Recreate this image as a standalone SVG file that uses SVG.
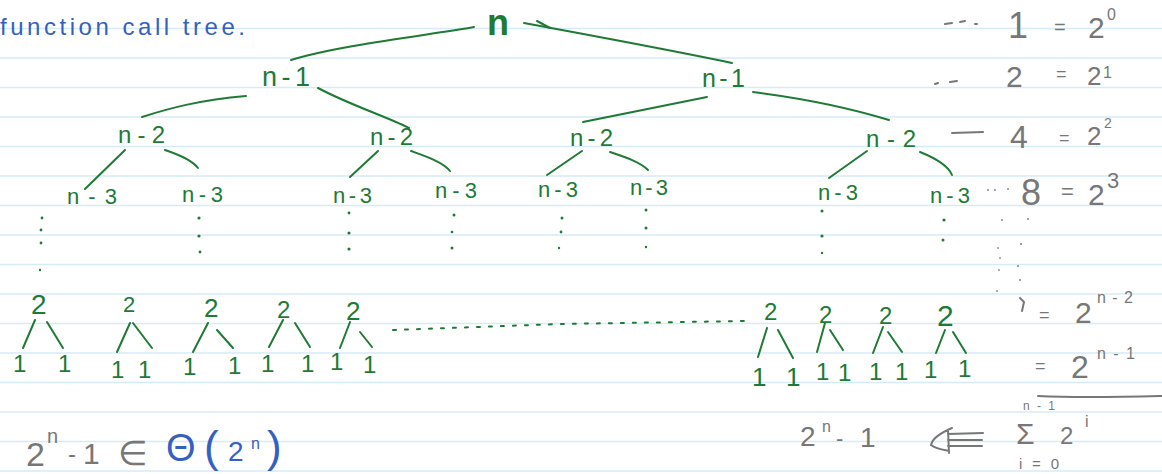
<svg xmlns="http://www.w3.org/2000/svg" width="1162" height="474" viewBox="0 0 1162 474">
<style>
.rule{stroke:#d5ebf8;stroke-width:1.6}
.g{fill:#1e7a34;font-family:"Liberation Sans",Arial,sans-serif}
.gr{fill:#777;font-family:"Liberation Sans",Arial,sans-serif}
.b{fill:#3461c1;font-family:"Liberation Sans",Arial,sans-serif}
.e{stroke:#1e7a34;stroke-width:2;fill:none;stroke-linecap:round}
.ge{stroke:#777;stroke-width:2;fill:none;stroke-linecap:round}
.dot{fill:#1e7a34}
.gdot{fill:#888}
</style>
<rect width="1162" height="474" fill="#fff"/>
<g id="ruling">
<line class="rule" x1="0" y1="28.5" x2="1162" y2="28.5"/>
<line class="rule" x1="0" y1="58" x2="1162" y2="58"/>
<line class="rule" x1="0" y1="87.5" x2="1162" y2="87.5"/>
<line class="rule" x1="0" y1="117" x2="1162" y2="117"/>
<line class="rule" x1="0" y1="146.5" x2="1162" y2="146.5"/>
<line class="rule" x1="0" y1="176" x2="1162" y2="176"/>
<line class="rule" x1="0" y1="205.5" x2="1162" y2="205.5"/>
<line class="rule" x1="0" y1="235" x2="1162" y2="235"/>
<line class="rule" x1="0" y1="264.5" x2="1162" y2="264.5"/>
<line class="rule" x1="0" y1="294" x2="1162" y2="294"/>
<line class="rule" x1="0" y1="323.5" x2="1162" y2="323.5"/>
<line class="rule" x1="0" y1="353" x2="1162" y2="353"/>
<line class="rule" x1="0" y1="382.5" x2="1162" y2="382.5"/>
<line class="rule" x1="0" y1="412" x2="1162" y2="412"/>
<line class="rule" x1="0" y1="441.5" x2="1162" y2="441.5"/>
<line class="rule" x1="0" y1="471" x2="1162" y2="471"/>
</g>
<g id="title"><text class="b" x="0" y="35" font-size="24" textLength="245" lengthAdjust="spacing">function call tree.</text></g>

<g id="connectors">
<path class="e" d="M474,27 C430,35 340,45 291,60"/>
<path class="e" d="M524,23 C600,37 680,52 732,63"/>
<path class="e" d="M537,21 L550,28"/>
<path class="e" d="M246,96 C200,100 170,108 142,117"/>
<path class="e" d="M318,88 C350,105 385,116 409,128"/>
<path class="e" d="M707,97 L583,122"/>
<path class="e" d="M753,92 C800,98 850,108 889,120"/>
<path class="e" d="M125,150 L85,189"/>
<path class="e" d="M165,150 C180,155 192,160 198,168"/>
<path class="e" d="M378,151 L350,177"/>
<path class="e" d="M411,151 C425,156 443,162 450,171"/>
<path class="e" d="M582,151 L547,175"/>
<path class="e" d="M610,152 C625,157 640,162 648,170"/>
<path class="e" d="M867,151 L829,178"/>
<path class="e" d="M920,152 C935,158 948,165 952,175"/>
<path class="e" d="M35,320 L23,348"/><path class="e" d="M47,322 L63,348"/>
<path class="e" d="M130,323 L117,352"/><path class="e" d="M133,323 L152,348"/>
<path class="e" d="M208,323 L193,352"/><path class="e" d="M217,330 L233,348"/>
<path class="e" d="M283,320 L269,347"/><path class="e" d="M295,323 L310,347"/>
<path class="e" d="M350,322 L340,348"/><path class="e" d="M360,332 L372,347"/>
<path class="e" d="M767,328 L758,357"/><path class="e" d="M778,330 L793,358"/>
<path class="e" d="M825,323 L817,352"/><path class="e" d="M830,330 L843,350"/>
<path class="e" d="M883,327 L873,353"/><path class="e" d="M888,332 L902,352"/>
<path class="e" d="M945,330 L936,353"/><path class="e" d="M953,332 L966,353"/>
<path class="e" d="M393,330 L560,324 L745,321" stroke-dasharray="3 9" stroke-width="1.8"/>
</g>

<g id="dots">
<circle class="dot" cx="42" cy="218" r="1.4"/><circle class="dot" cx="41" cy="230" r="1.4"/><circle class="dot" cx="41" cy="243" r="1.4"/><circle class="dot" cx="40" cy="270" r="1.2"/>
<circle class="dot" cx="199" cy="218" r="1.6"/><circle class="dot" cx="199" cy="236" r="1.6"/><circle class="dot" cx="200" cy="252" r="1.4"/>
<circle class="dot" cx="349" cy="213" r="1.4"/><circle class="dot" cx="349" cy="233" r="1.6"/><circle class="dot" cx="349" cy="249" r="1.6"/>
<circle class="dot" cx="454" cy="215" r="1.5"/><circle class="dot" cx="452" cy="232" r="1.3"/><circle class="dot" cx="452" cy="248" r="1.5"/>
<circle class="dot" cx="562" cy="218" r="1.5"/><circle class="dot" cx="561" cy="232" r="1.4"/><circle class="dot" cx="559" cy="248" r="1.2"/>
<circle class="dot" cx="646" cy="210" r="1.5"/><circle class="dot" cx="646" cy="228" r="1.5"/><circle class="dot" cx="646" cy="247" r="1.2"/>
<circle class="dot" cx="822" cy="211" r="1.5"/><circle class="dot" cx="822" cy="236" r="1.6"/><circle class="dot" cx="822" cy="253" r="1.2"/>
<circle class="dot" cx="944" cy="220" r="1.6"/><circle class="dot" cx="943" cy="240" r="1.5"/>
</g>

<g id="node-root"><text class="g" x="487" y="35" font-size="36" font-weight="bold">n</text></g>
<g id="node-n1-left"><text class="g" x="262" y="86" font-size="27" textLength="48" lengthAdjust="spacing">n-1</text></g>
<g id="node-n1-right"><text class="g" x="702" y="87" font-size="25" textLength="43" lengthAdjust="spacing">n-1</text></g>
<g id="node-n2-a"><text class="g" x="118" y="143" font-size="24" textLength="47" lengthAdjust="spacing">n-2</text></g>
<g id="node-n2-b"><text class="g" x="370" y="145" font-size="24" textLength="43" lengthAdjust="spacing">n-2</text></g>
<g id="node-n2-c"><text class="g" x="570" y="146" font-size="24" textLength="43" lengthAdjust="spacing">n-2</text></g>
<g id="node-n2-d"><text class="g" x="866" y="147" font-size="24" textLength="50" lengthAdjust="spacing">n-2</text></g>
<g id="node-n3-a"><text class="g" x="67" y="204" font-size="22" textLength="50" lengthAdjust="spacing">n-3</text></g>
<g id="node-n3-b"><text class="g" x="182" y="202" font-size="22" textLength="41" lengthAdjust="spacing">n-3</text></g>
<g id="node-n3-c"><text class="g" x="333" y="203" font-size="22" textLength="39" lengthAdjust="spacing">n-3</text></g>
<g id="node-n3-d"><text class="g" x="435" y="198" font-size="22" textLength="42" lengthAdjust="spacing">n-3</text></g>
<g id="node-n3-e"><text class="g" x="538" y="197" font-size="22" textLength="40" lengthAdjust="spacing">n-3</text></g>
<g id="node-n3-f"><text class="g" x="630" y="195" font-size="22" textLength="38" lengthAdjust="spacing">n-3</text></g>
<g id="node-n3-g"><text class="g" x="818" y="200" font-size="22" textLength="40" lengthAdjust="spacing">n-3</text></g>
<g id="node-n3-h"><text class="g" x="930" y="203" font-size="22" textLength="40" lengthAdjust="spacing">n-3</text></g>

<g id="node-2-a"><text class="g" x="31" y="314" font-size="28">2</text></g>
<g id="node-2-b"><text class="g" x="123" y="312" font-size="22">2</text></g>
<g id="node-2-c"><text class="g" x="204" y="317" font-size="26">2</text></g>
<g id="node-2-d"><text class="g" x="277" y="318" font-size="24">2</text></g>
<g id="node-2-e"><text class="g" x="346" y="320" font-size="26">2</text></g>
<g id="node-2-f"><text class="g" x="764" y="320" font-size="24">2</text></g>
<g id="node-2-g"><text class="g" x="819" y="323" font-size="24">2</text></g>
<g id="node-2-h"><text class="g" x="879" y="324" font-size="24">2</text></g>
<g id="node-2-i"><text class="g" x="937" y="326" font-size="30">2</text></g>

<g id="leaves" class="g" font-size="24">
<text x="13" y="372">1</text><text x="58" y="372">1</text>
<text x="111" y="378">1</text><text x="138" y="378">1</text>
<text x="183" y="375">1</text><text x="228" y="374">1</text>
<text x="261" y="372">1</text><text x="301" y="372">1</text>
<text x="330" y="370">1</text><text x="363" y="373">1</text>
<text x="752" y="386" font-size="26">1</text><text x="786" y="386" font-size="26">1</text>
<text x="816" y="380">1</text><text x="838" y="381">1</text>
<text x="869" y="380">1</text><text x="895" y="380">1</text>
<text x="924" y="378">1</text><text x="958" y="377">1</text>
</g>

<g id="level-counts">
<path class="ge" d="M945,24 L952,23 M960,22 L965,21 M975,24 L977,24" stroke-width="1.5"/>
<text class="gr" x="1008" y="38" font-size="36">1</text>
<text class="gr" x="1054" y="34" font-size="20">=</text>
<text class="gr" x="1088" y="38" font-size="30">2</text>
<text class="gr" x="1107" y="20" font-size="16">0</text>

<path class="ge" d="M935,84 L938,83 M950,82 L957,81" stroke-width="1.5"/>
<text class="gr" x="1006" y="87" font-size="30">2</text>
<text class="gr" x="1056" y="80" font-size="18">=</text>
<text class="gr" x="1087" y="85" font-size="26">2</text>
<text class="gr" x="1103" y="78" font-size="16">1</text>

<path class="ge" d="M952,133 L983,132"/>
<text class="gr" x="1010" y="148" font-size="32">4</text>
<text class="gr" x="1059" y="144" font-size="18">=</text>
<text class="gr" x="1087" y="145" font-size="26">2</text>
<text class="gr" x="1104" y="128" font-size="14">2</text>

<circle class="gdot" cx="988" cy="190" r="1"/><circle class="gdot" cx="995" cy="190" r="1"/><circle class="gdot" cx="1008" cy="189" r="1"/>
<text class="gr" x="1021" y="205" font-size="36">8</text>
<text class="gr" x="1061" y="199" font-size="22">=</text>
<text class="gr" x="1088" y="205" font-size="30">2</text>
<text class="gr" x="1107" y="188" font-size="22">3</text>

<circle class="gdot" cx="1002" cy="220" r="1"/><circle class="gdot" cx="1028" cy="219" r="1"/>
<circle class="gdot" cx="998" cy="248" r="0.9"/><circle class="gdot" cx="1021" cy="244" r="1.1"/>
<circle class="gdot" cx="1000" cy="258" r="0.9"/><circle class="gdot" cx="1018" cy="266" r="1.1"/>
<circle class="gdot" cx="999" cy="270" r="0.9"/><circle class="gdot" cx="1020" cy="280" r="1.1"/>
<circle class="gdot" cx="997" cy="291" r="0.9"/>
<path class="ge" d="M1020,298 L1024,302 L1022,311" stroke-width="1.5"/>

<text class="gr" x="1039" y="321" font-size="18">=</text>
<text class="gr" x="1075" y="323" font-size="30">2</text>
<text class="gr" x="1097" y="303" font-size="16" textLength="36" lengthAdjust="spacing">n-2</text>

<text class="gr" x="1035" y="372" font-size="18">=</text>
<text class="gr" x="1071" y="378" font-size="32">2</text>
<text class="gr" x="1097" y="359" font-size="16" textLength="38" lengthAdjust="spacing">n-1</text>
<path class="ge" d="M1038,396 C1080,398 1120,397 1162,396" stroke-width="2.5"/>
</g>

<g id="sum">
<text class="gr" x="800" y="446" font-size="28">2</text>
<text class="gr" x="822" y="432" font-size="16">n</text>
<text class="gr" x="836" y="446" font-size="22">-</text>
<text class="gr" x="860" y="447" font-size="28">1</text>
<path class="ge" d="M952,428 C938,434 932,440 931,445 C936,449 944,450 949,451 M948,430 L949,453 M948,434 L983,433 M948,440 L982,440 M948,446 L982,446" stroke-width="1.8"/>
<text class="gr" x="1016" y="444" font-size="30">Σ</text>
<text class="gr" x="1023" y="410" font-size="12" textLength="32" lengthAdjust="spacing">n-1</text>
<text class="gr" x="1060" y="444" font-size="24">2</text>
<text class="gr" x="1085" y="427" font-size="16">i</text>
<text class="gr" x="1019" y="469" font-size="15" textLength="40" lengthAdjust="spacing">i=0</text>
</g>

<g id="theta">
<text class="gr" x="26" y="466" font-size="34">2</text>
<text class="gr" x="47" y="443" font-size="20">n</text>
<text class="gr" x="68" y="462" font-size="24">-</text>
<text class="gr" x="83" y="464" font-size="30">1</text>
<text class="gr" x="118" y="465" font-size="34">∈</text>
<text class="b" x="166" y="461" font-size="38">Θ</text>
<text class="b" x="204" y="462" font-size="44">(</text>
<text class="b" x="228" y="461" font-size="28">2</text>
<text class="b" x="251" y="449" font-size="16">n</text>
<text class="b" x="267" y="462" font-size="44">)</text>
</g>
</svg>
